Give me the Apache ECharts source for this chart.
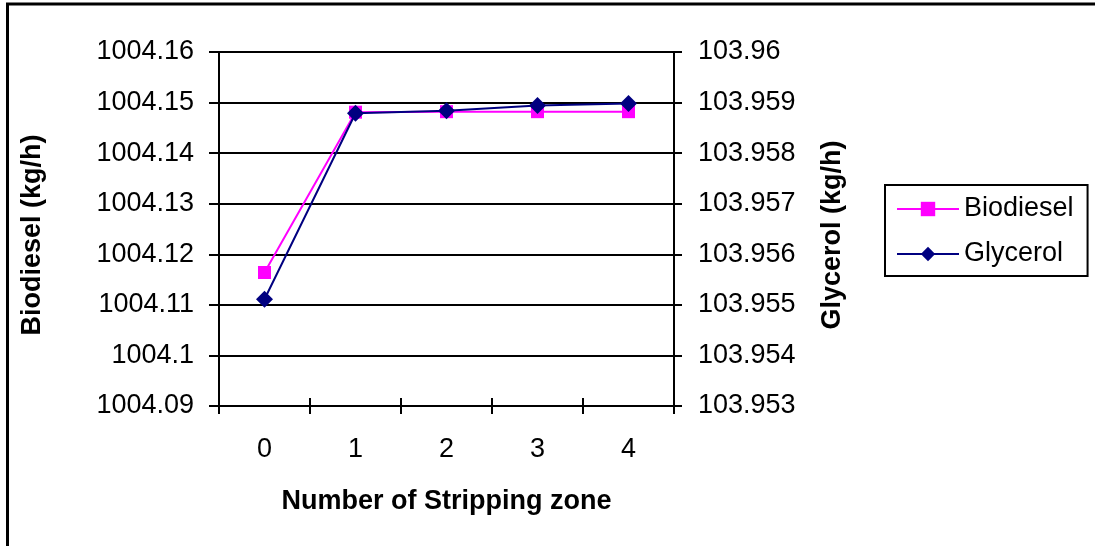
<!DOCTYPE html>
<html>
<head>
<meta charset="utf-8">
<script src="https://cdn.jsdelivr.net/npm/echarts@6/dist/echarts.min.js"></script>
<style>
  html, body { margin: 0; padding: 0; background: #fff; }
  #chart { width: 1095px; height: 546px; }
</style>
</head>
<body>
<div id="chart"></div>
<script>
// Stripping zones on the x axis
const zones = ['0', '1', '2', '3', '4'];
// Biodiesel flow (kg/h), left axis
const biodiesel = [1004.1164, 1004.1481, 1004.1482, 1004.1482, 1004.1482];
// Glycerol flow (kg/h), right axis
const glycerol = [103.95511, 103.95879, 103.95884, 103.95894, 103.95898];
// Axis ranges
const leftRange = { min: 1004.09, max: 1004.16, step: 0.01 };
const rightRange = { min: 103.953, max: 103.96, step: 0.001 };

const FONT = '"Liberation Sans", Arial, sans-serif';
const SIZE = 27;
const fmt = (digits) => (v) => String(parseFloat(v.toFixed(digits)));

const chart = echarts.init(document.getElementById('chart'), null, { renderer: 'canvas' });

chart.setOption({
  animation: false,
  backgroundColor: '#ffffff',
  textStyle: { fontFamily: FONT, color: '#000' },
  graphic: [{
    type: 'rect',
    shape: { x: 7.5, y: 4, width: 1200, height: 700 },
    style: { fill: 'none', stroke: '#000', lineWidth: 3 },
    silent: true
  }],
  grid: { left: 219, right: 421, top: 52, bottom: 140, containLabel: false },
  legend: {
    orient: 'vertical',
    left: 885,
    top: 185,
    padding: [10, 14, 8, 11],
    borderColor: '#000',
    borderWidth: 2,
    backgroundColor: '#fff',
    itemWidth: 62,
    itemHeight: 18,
    itemGap: 17,
    textStyle: { fontFamily: FONT, fontSize: SIZE, lineHeight: 28, color: '#000' },
    data: ['Biodiesel', 'Glycerol']
  },
  xAxis: [{
    type: 'category',
    data: zones,
    boundaryGap: true,
    name: 'Number of Stripping zone',
    nameLocation: 'middle',
    nameGap: 82,
    nameTextStyle: { fontFamily: FONT, fontSize: SIZE, fontWeight: 'bold', color: '#000' },
    axisLine: { lineStyle: { color: '#000', width: 2 } },
    axisTick: { show: true, alignWithLabel: false, length: 8, lineStyle: { color: '#000', width: 2 } },
    axisLabel: { fontFamily: FONT, fontSize: SIZE, color: '#000', margin: 30 },
    splitLine: { show: false }
  }, {
    // inner half of the crossing tick marks
    type: 'category',
    data: zones,
    boundaryGap: true,
    position: 'bottom',
    axisLine: { show: false },
    axisTick: { show: true, inside: true, length: 8, lineStyle: { color: '#000', width: 2 } },
    axisLabel: { show: false },
    splitLine: { show: false }
  }],
  yAxis: [{
    type: 'value',
    min: leftRange.min,
    max: leftRange.max,
    interval: leftRange.step,
    position: 'left',
    name: 'Biodiesel (kg/h)',
    nameLocation: 'middle',
    nameRotate: 90,
    nameGap: 173,
    nameTextStyle: { fontFamily: FONT, fontSize: SIZE, fontWeight: 'bold', color: '#000', padding: [0, 12, 0, 0] },
    axisLine: { show: true, lineStyle: { color: '#000', width: 2 } },
    axisTick: { show: true, length: 10, lineStyle: { color: '#000', width: 2 } },
    axisLabel: { fontFamily: FONT, fontSize: SIZE, color: '#000', margin: 25, formatter: fmt(4) },
    splitLine: { show: true, lineStyle: { color: '#000', width: 2 } }
  }, {
    type: 'value',
    min: rightRange.min,
    max: rightRange.max,
    interval: rightRange.step,
    position: 'right',
    name: 'Glycerol (kg/h)',
    nameLocation: 'middle',
    nameRotate: 90,
    nameGap: 145,
    nameTextStyle: { fontFamily: FONT, fontSize: SIZE, fontWeight: 'bold', color: '#000', padding: [0, 12, 0, 0] },
    axisLine: { show: true, lineStyle: { color: '#000', width: 2 } },
    axisTick: { show: true, length: 8, lineStyle: { color: '#000', width: 2 } },
    axisLabel: { fontFamily: FONT, fontSize: SIZE, color: '#000', margin: 24, formatter: fmt(5) },
    splitLine: { show: false }
  }],
  series: [{
    name: 'Biodiesel',
    type: 'line',
    xAxisIndex: 0,
    yAxisIndex: 0,
    data: biodiesel,
    symbol: 'rect',
    symbolSize: 13,
    color: '#FF00FF',
    lineStyle: { color: '#FF00FF', width: 2 },
    itemStyle: { color: '#FF00FF' },
    z: 3
  }, {
    name: 'Glycerol',
    type: 'line',
    xAxisIndex: 0,
    yAxisIndex: 1,
    data: glycerol,
    symbol: 'diamond',
    symbolSize: 17,
    color: '#000080',
    lineStyle: { color: '#000080', width: 2 },
    itemStyle: { color: '#000080' },
    z: 4
  }]
});
</script>
</body>
</html>
